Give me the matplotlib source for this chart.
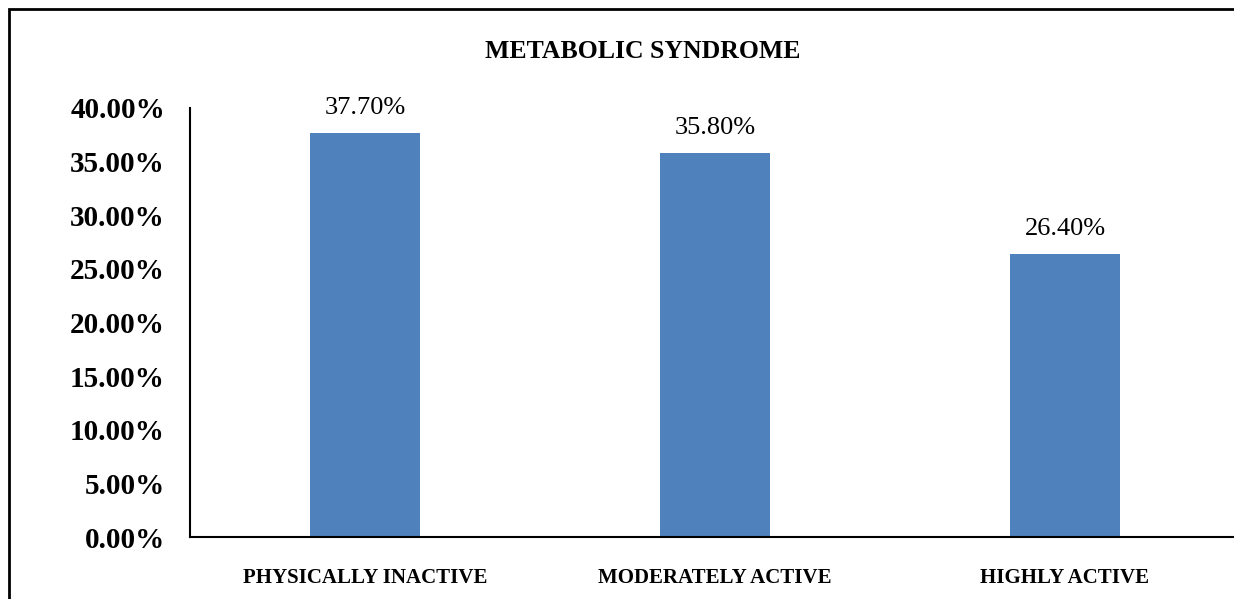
import matplotlib
matplotlib.use("Agg")
import matplotlib.pyplot as plt
from matplotlib.patches import Rectangle
from matplotlib.ticker import FuncFormatter

categories = ["PHYSICALLY INACTIVE", "MODERATELY ACTIVE", "HIGHLY ACTIVE"]
values = [37.70, 35.80, 26.40]
yticks = [0, 5, 10, 15, 20, 25, 30, 35, 40]
title = "METABOLIC SYNDROME"

W, H = 1234, 599
fig = plt.figure(figsize=(W / 100, H / 100), dpi=100)
fig.patch.set_facecolor("white")
serif = ["Liberation Serif", "DejaVu Serif"]

# outer chart border (left/top visible, rest clipped)
fig.patches.append(Rectangle((9 / W, -0.1), 1.2, 1 - 9 / H + 0.1,
                             transform=fig.transFigure, fill=False,
                             edgecolor="black", linewidth=2.0))

ax = fig.add_axes([190 / W, 62 / H, 1050 / W, (537 - 108) / H])
x = list(range(len(categories)))
bars = ax.bar(x, values, width=0.314, color="#4F81BD", zorder=2)
ax.set_xlim(-0.5, 2.5)
ax.set_ylim(0, 40)
ax.set_yticks(yticks)
ax.yaxis.set_major_formatter(FuncFormatter(lambda v, p: f"{v:.2f}%"))
ax.set_xticks(x)
ax.set_xticklabels(categories)
for lab in ax.get_yticklabels():
    lab.set_fontfamily(serif)
    lab.set_fontweight("bold")
    lab.set_fontsize(21)
for lab in ax.get_xticklabels():
    lab.set_fontfamily(serif)
    lab.set_fontweight("bold")
    lab.set_fontsize(15)
ax.tick_params(axis="y", length=0, pad=18)
ax.tick_params(axis="x", length=0, pad=22)
for s in ["top", "right"]:
    ax.spines[s].set_visible(False)
for s in ["left", "bottom"]:
    ax.spines[s].set_linewidth(1.5)
    ax.spines[s].set_color("black")

for xi, v in zip(x, values):
    ax.annotate(f"{v:.2f}%", (xi, v), xytext=(0, 10), textcoords="offset points",
                ha="center", va="bottom", fontsize=19, family=serif)

fig.text(643 / W, 1 - 52 / H, title, ha="center", va="center",
         fontsize=18.5, fontweight="bold", family=serif)

fig.savefig("out.png", dpi=100)
